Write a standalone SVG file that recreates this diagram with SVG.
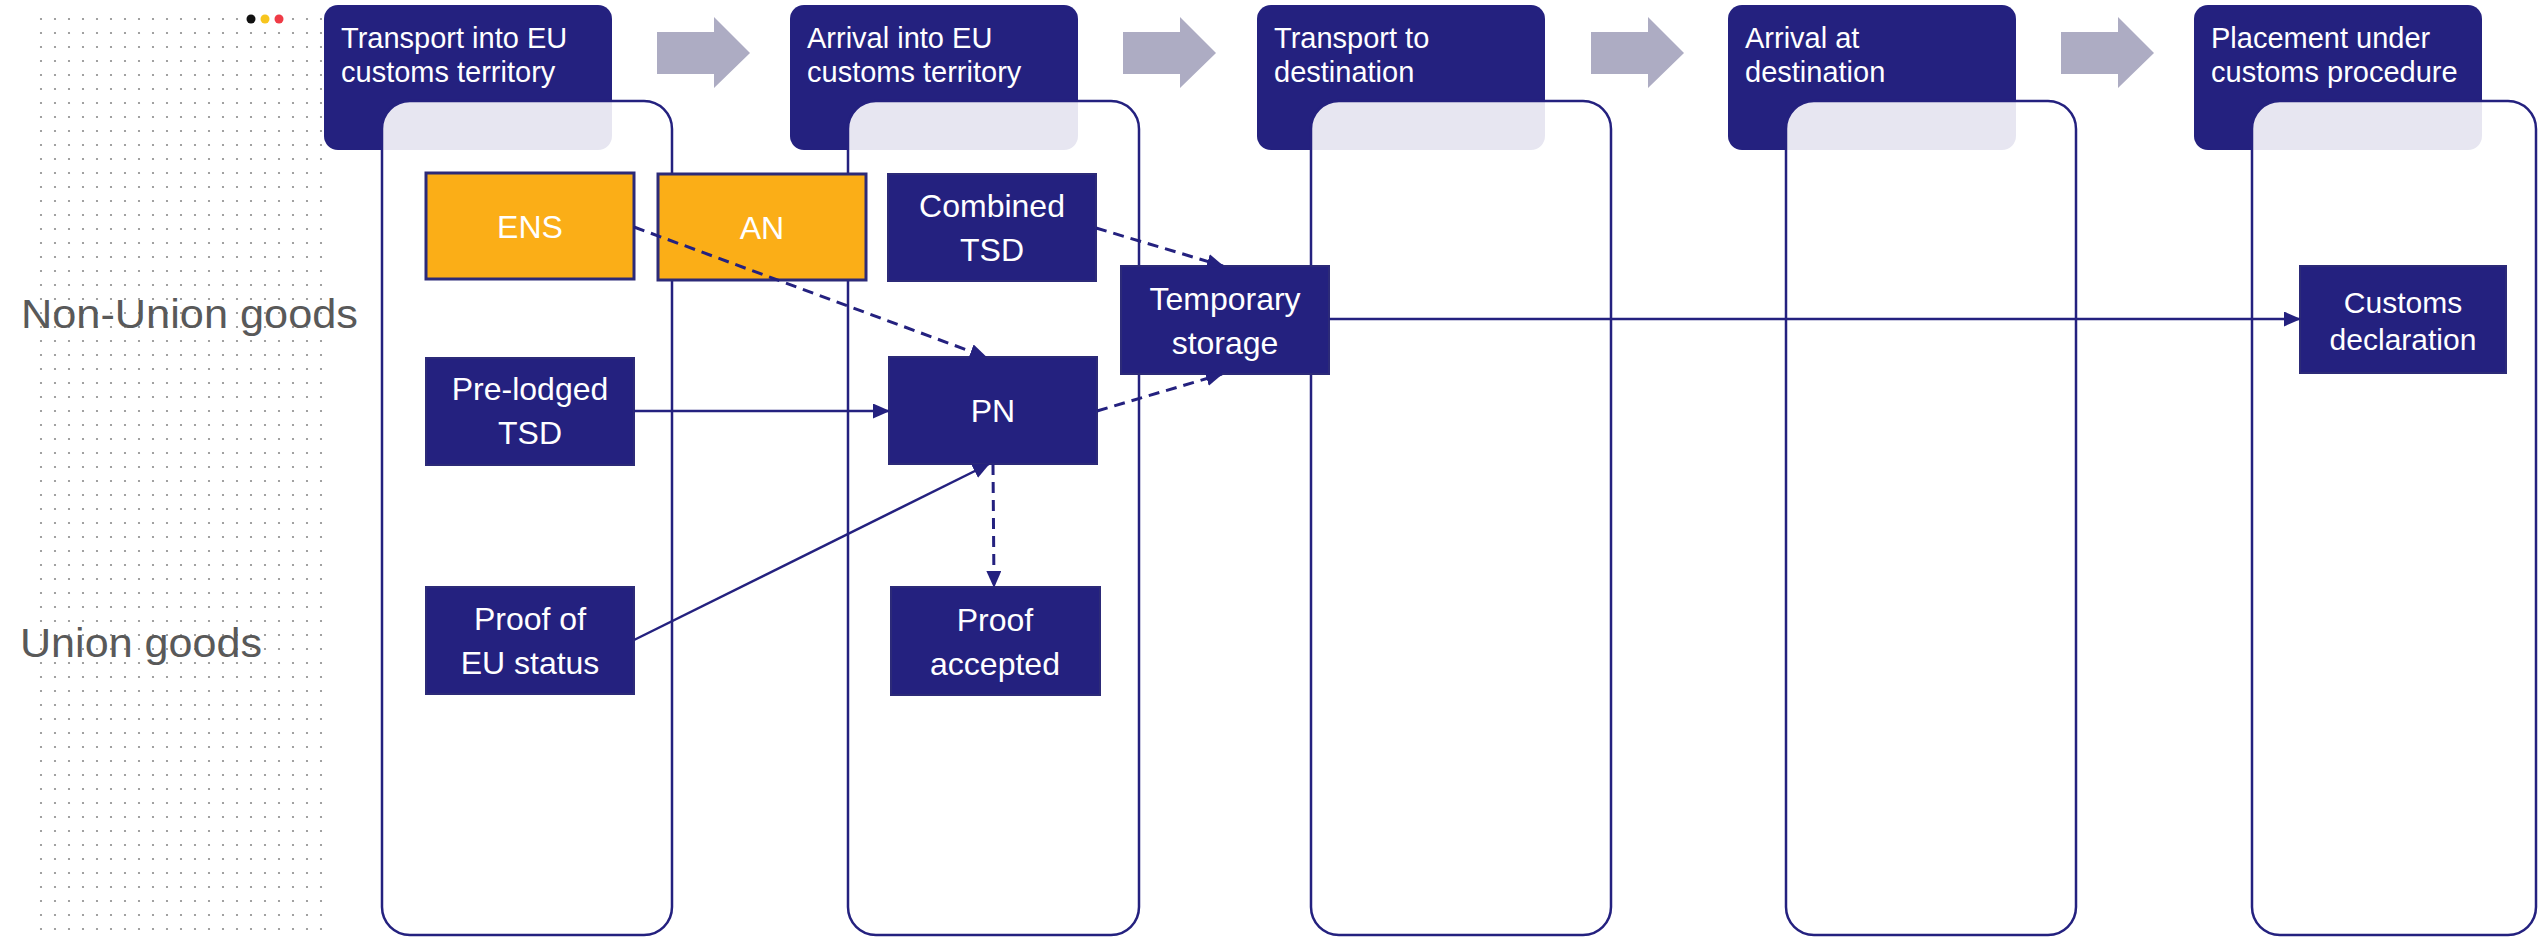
<svg xmlns="http://www.w3.org/2000/svg" width="2539" height="937" viewBox="0 0 2539 937">
<style>
.hdr{fill:#24217f}
.hdrt{fill:#ffffff;font-family:"Liberation Sans",Arial,sans-serif;font-size:29px}
.col{fill:#ffffff;fill-opacity:0.89;stroke:#24217f;stroke-width:2.5}
.nav{fill:#24217f;stroke:#2c2a78;stroke-width:2}
.org{fill:#fbae17;stroke:#2c2a78;stroke-width:3}
.nt{fill:#ffffff;font-family:"Liberation Sans",Arial,sans-serif;font-size:32px;text-anchor:middle}
.lbl{fill:#595959;font-family:"Liberation Sans",Arial,sans-serif;font-size:41px}
.ln{fill:none;stroke:#24217f;stroke-width:2.5}
.dash{stroke-width:3;stroke-dasharray:11 7}
.flow{fill:#adacc3}
</style>
<defs>
<pattern id="dots" x="34" y="12" width="14" height="14" patternUnits="userSpaceOnUse">
<circle cx="7" cy="7" r="1.1" fill="#8a8a8a"/>
</pattern>
<marker id="ah" viewBox="0 0 17 15" refX="16" refY="7.5" markerWidth="17" markerHeight="15" markerUnits="userSpaceOnUse" orient="auto">
<path d="M0,0 L17,7.5 L0,15 z" fill="#24217f"/>
</marker>
<polygon id="flowarrow" points="0,15 57,15 57,0 93,36 57,71 57,57 0,57"/>
</defs>

<rect x="0" y="0" width="2539" height="937" fill="#ffffff"/>

<g id="dot-grid">
<rect x="34" y="12" width="294" height="924" fill="url(#dots)"/>
<circle cx="251" cy="19" r="4.5" fill="#111111"/>
<circle cx="265" cy="19" r="4.5" fill="#f7c51e"/>
<circle cx="279" cy="19" r="4.5" fill="#ef3b46"/>
</g>

<g id="row-labels">
<text class="lbl" x="21" y="328" textLength="337" lengthAdjust="spacingAndGlyphs">Non-Union goods</text>
<text class="lbl" x="20" y="657" textLength="242" lengthAdjust="spacingAndGlyphs">Union goods</text>
</g>

<g id="flow-arrows" class="flow">
<use href="#flowarrow" transform="translate(657,17)"/>
<use href="#flowarrow" transform="translate(1123,17)"/>
<use href="#flowarrow" transform="translate(1591,17)"/>
<use href="#flowarrow" transform="translate(2061,17)"/>
</g>

<g id="stage-1">
<rect class="hdr" x="324" y="5" width="288" height="145" rx="14"/>
<text class="hdrt" x="341" y="48">Transport into EU</text>
<text class="hdrt" x="341" y="82">customs territory</text>
<rect class="col" x="382" y="101" width="290" height="834" rx="28"/>
</g>
<g id="stage-2">
<rect class="hdr" x="790" y="5" width="288" height="145" rx="14"/>
<text class="hdrt" x="807" y="48">Arrival into EU</text>
<text class="hdrt" x="807" y="82">customs territory</text>
<rect class="col" x="848" y="101" width="291" height="834" rx="28"/>
</g>
<g id="stage-3">
<rect class="hdr" x="1257" y="5" width="288" height="145" rx="14"/>
<text class="hdrt" x="1274" y="48">Transport to</text>
<text class="hdrt" x="1274" y="82">destination</text>
<rect class="col" x="1311" y="101" width="300" height="834" rx="28"/>
</g>
<g id="stage-4">
<rect class="hdr" x="1728" y="5" width="288" height="145" rx="14"/>
<text class="hdrt" x="1745" y="48">Arrival at</text>
<text class="hdrt" x="1745" y="82">destination</text>
<rect class="col" x="1786" y="101" width="290" height="834" rx="28"/>
</g>
<g id="stage-5">
<rect class="hdr" x="2194" y="5" width="288" height="145" rx="14"/>
<text class="hdrt" x="2211" y="48">Placement under</text>
<text class="hdrt" x="2211" y="82">customs procedure</text>
<rect class="col" x="2252" y="101" width="284" height="834" rx="28"/>
</g>

<g id="ens">
<rect class="org" x="426" y="173" width="208" height="106"/>
<text class="nt" x="530" y="238">ENS</text>
</g>
<g id="an">
<rect class="org" x="658" y="174" width="208" height="106"/>
<text class="nt" x="762" y="239">AN</text>
</g>
<g id="combined-tsd">
<rect class="nav" x="888" y="174" width="208" height="107"/>
<text class="nt" x="992" y="217">Combined</text>
<text class="nt" x="992" y="261">TSD</text>
</g>
<g id="pre-lodged-tsd">
<rect class="nav" x="426" y="358" width="208" height="107"/>
<text class="nt" x="530" y="400">Pre-lodged</text>
<text class="nt" x="530" y="444">TSD</text>
</g>
<g id="pn">
<rect class="nav" x="889" y="357" width="208" height="107"/>
<text class="nt" x="993" y="422">PN</text>
</g>
<g id="proof-eu-status">
<rect class="nav" x="426" y="587" width="208" height="107"/>
<text class="nt" x="530" y="630">Proof of</text>
<text class="nt" x="530" y="674">EU status</text>
</g>
<g id="proof-accepted">
<rect class="nav" x="891" y="587" width="209" height="108"/>
<text class="nt" x="995" y="631">Proof</text>
<text class="nt" x="995" y="675">accepted</text>
</g>
<g id="temporary-storage">
<rect class="nav" x="1121" y="266" width="208" height="108"/>
<text class="nt" x="1225" y="310">Temporary</text>
<text class="nt" x="1225" y="354">storage</text>
</g>
<g id="customs-declaration">
<rect class="nav" x="2300" y="266" width="206" height="107"/>
<text class="nt" x="2403" y="313" style="font-size:30px">Customs</text>
<text class="nt" x="2403" y="350" style="font-size:30px">declaration</text>
</g>

<g id="connectors">
<line class="ln dash" x1="634" y1="227" x2="986" y2="357" marker-end="url(#ah)"/>
<line class="ln dash" x1="1096" y1="228" x2="1223" y2="266" marker-end="url(#ah)"/>
<line class="ln dash" x1="1097" y1="411" x2="1222" y2="374" marker-end="url(#ah)"/>
<line class="ln" x1="634" y1="411" x2="889" y2="411" marker-end="url(#ah)"/>
<line class="ln" x1="634" y1="640" x2="989" y2="464" marker-end="url(#ah)"/>
<line class="ln dash" x1="993" y1="464" x2="994" y2="587" marker-end="url(#ah)"/>
<line class="ln" x1="1329" y1="319" x2="2300" y2="319" marker-end="url(#ah)"/>
</g>
</svg>
